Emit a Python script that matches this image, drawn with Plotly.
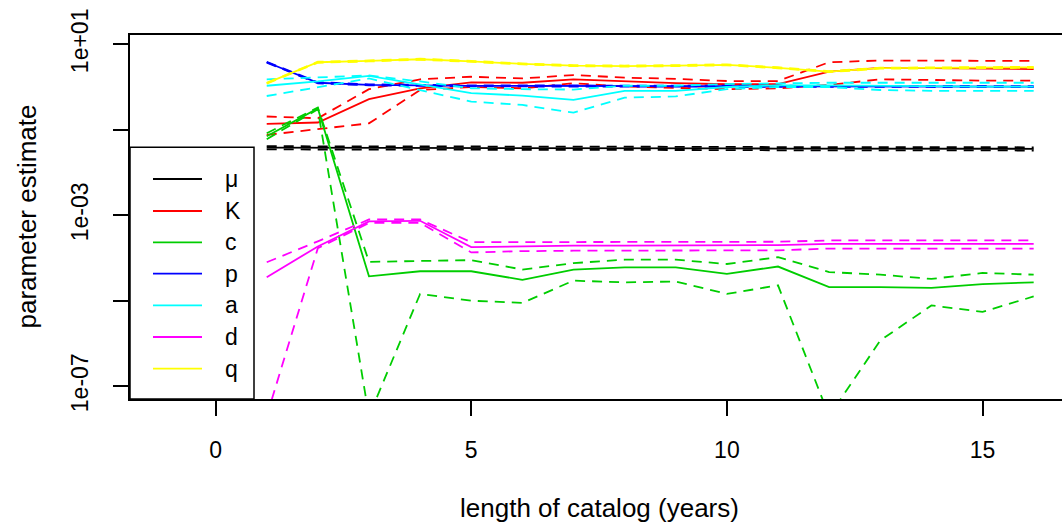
import plotly.graph_objects as go

# ---- data (log10 of parameter estimates) ----
years = [1, 2, 3, 4, 5, 6, 7, 8, 9, 10, 11, 12, 13, 14, 15, 16]

mu_est = [-1.42, -1.42, -1.425, -1.43, -1.43, -1.43, -1.43, -1.435, -1.435, -1.435, -1.44, -1.44, -1.44, -1.44, -1.445, -1.445]
mu_hi = [-1.385, -1.385, -1.39, -1.395, -1.395, -1.395, -1.395, -1.40, -1.40, -1.40, -1.405, -1.405, -1.405, -1.405, -1.41, -1.41]
mu_lo = [-1.46, -1.46, -1.465, -1.47, -1.47, -1.47, -1.47, -1.475, -1.475, -1.475, -1.48, -1.48, -1.48, -1.48, -1.485, -1.485]

K_est = [-0.86, -0.83, -0.285, -0.03, 0.11, 0.10, 0.18, 0.127, 0.089, 0.065, 0.07, 0.36, 0.45, 0.44, 0.43, 0.42]
K_hi = [-0.69, -0.73, -0.05, 0.18, 0.24, 0.20, 0.28, 0.22, 0.19, 0.14, 0.14, 0.58, 0.62, 0.62, 0.61, 0.61]
K_lo = [-1.12, -0.98, -0.85, -0.07, 0.0, -0.03, 0.09, 0.01, -0.02, -0.05, -0.03, 0.05, 0.18, 0.16, 0.15, 0.15]

c_est = [-1.15, -0.50, -4.43, -4.31, -4.31, -4.51, -4.27, -4.22, -4.22, -4.37, -4.20, -4.68, -4.68, -4.70, -4.61, -4.57]
c_hi = [-1.08, -0.48, -4.09, -4.07, -4.05, -4.27, -4.12, -4.04, -4.04, -4.14, -3.98, -4.33, -4.39, -4.49, -4.35, -4.39]
c_lo = [-1.22, -0.52, -7.7, -4.84, -5.0, -5.05, -4.53, -4.57, -4.55, -4.84, -4.64, -7.7, -5.93, -5.11, -5.26, -4.90]

p_est = [0.58, 0.10, 0.05, 0.03, 0.026, 0.025, 0.022, 0.02, 0.02, 0.02, 0.015, 0.012, 0.01, 0.01, 0.01, 0.01]
p_hi = [0.59, 0.112, 0.062, 0.042, 0.038, 0.037, 0.034, 0.032, 0.032, 0.032, 0.027, 0.024, 0.022, 0.022, 0.022, 0.022]
p_lo = [0.57, 0.088, 0.038, 0.018, 0.014, 0.013, 0.010, 0.008, 0.008, 0.008, 0.003, 0.0, -0.002, -0.002, -0.002, -0.002]

a_est = [0.03, 0.13, 0.26, 0.05, -0.145, -0.20, -0.30, -0.09, -0.09, 0.0, 0.04, 0.04, 0.03, 0.01, 0.01, 0.01]
a_hi = [0.18, 0.22, 0.27, 0.13, -0.03, -0.05, -0.06, 0.03, 0.03, 0.07, 0.09, 0.10, 0.10, 0.10, 0.10, 0.10]
a_lo = [-0.21, 0.0, 0.20, -0.07, -0.34, -0.42, -0.60, -0.25, -0.22, -0.05, 0.0, 0.0, -0.07, -0.09, -0.09, -0.09]

d_est = [-4.45, -3.73, -3.145, -3.13, -3.745, -3.72, -3.71, -3.71, -3.71, -3.705, -3.70, -3.67, -3.67, -3.67, -3.67, -3.67]
d_hi = [-4.10, -3.61, -3.10, -3.10, -3.63, -3.63, -3.63, -3.63, -3.63, -3.63, -3.62, -3.59, -3.59, -3.59, -3.59, -3.59]
d_lo = [-7.7, -3.77, -3.18, -3.18, -3.87, -3.84, -3.83, -3.83, -3.83, -3.83, -3.82, -3.78, -3.78, -3.78, -3.78, -3.78]

q_est = [0.09, 0.58, 0.61, 0.65, 0.60, 0.54, 0.50, 0.49, 0.50, 0.52, 0.45, 0.36, 0.44, 0.45, 0.46, 0.46]
q_hi = [0.10, 0.592, 0.622, 0.662, 0.612, 0.552, 0.512, 0.502, 0.512, 0.532, 0.462, 0.372, 0.452, 0.462, 0.472, 0.472]
q_lo = [0.08, 0.568, 0.598, 0.638, 0.588, 0.528, 0.488, 0.478, 0.488, 0.508, 0.438, 0.348, 0.428, 0.438, 0.448, 0.448]

param_names = ["μ", "K", "c", "p", "a", "d", "q"]
param_colors = ["#000000", "#FF0000", "#00CD00", "#0000FF", "#00FFFF", "#FF00FF", "#FFFF00"]
series = [
    (mu_est, mu_lo, mu_hi),
    (K_est, K_lo, K_hi),
    (c_est, c_lo, c_hi),
    (p_est, p_lo, p_hi),
    (a_est, a_lo, a_hi),
    (d_est, d_lo, d_hi),
    (q_est, q_lo, q_hi),
]

y_tick_vals = [1e1, 1e-1, 1e-3, 1e-5, 1e-7]
y_tick_text = ["1e+01", "", "1e-03", "", "1e-07"]
x_tick_vals = [0, 5, 10, 15]

FONT = "Liberation Sans, Arial, Helvetica, sans-serif"
W, H = 1062, 529
L, R, T, B = 130, 0, 35, 130
PW, PH = W - L - R, H - T - B
LW = 1.8

fig = go.Figure()
for name, col, (est, lo, hi) in zip(param_names, param_colors, series):
    fig.add_trace(go.Scatter(x=years, y=[10 ** v for v in est], mode="lines",
                             line=dict(color=col, width=LW), showlegend=False,
                             name=name, hoverinfo="skip"))
    for b in (lo, hi):
        fig.add_trace(go.Scatter(x=years, y=[10 ** v for v in b], mode="lines",
                                 line=dict(color=col, width=LW, dash="10px,7px"),
                                 showlegend=False, hoverinfo="skip"))

def px_x(p):
    return (p - L) / PW

def px_y(p):
    return (H - B - p) / PH

shapes = []
annotations = []
# legend box
shapes.append(dict(type="rect", xref="paper", yref="paper", x0=0, x1=px_x(254),
                   y0=0, y1=px_y(147.3), fillcolor="white",
                   line=dict(color="black", width=1.5), layer="above"))
legend_rows = [179, 211, 242.3, 273.7, 305.3, 337, 368.7]
for name, col, yy in zip(param_names, param_colors, legend_rows):
    shapes.append(dict(type="line", xref="paper", yref="paper", x0=px_x(153), x1=px_x(202),
                       y0=px_y(yy), y1=px_y(yy), line=dict(color=col, width=LW), layer="above"))
    annotations.append(dict(text=name, xref="paper", yref="paper", x=px_x(223), y=px_y(yy),
                            xanchor="left", yanchor="middle", showarrow=False,
                            font=dict(family=FONT, size=23, color="black")))

# axis titles
annotations.append(dict(text="length of catalog (years)", xref="paper", yref="paper",
                        x=px_x(599), y=0, yshift=-(508 - (H - B)), xanchor="center",
                        yanchor="middle", showarrow=False,
                        font=dict(family=FONT, size=26, color="black")))
annotations.append(dict(text="parameter estimate", xref="paper", yref="paper",
                        x=0, xshift=-(L - 26), y=px_y(216.5), xanchor="center",
                        yanchor="middle", textangle=-90, showarrow=False,
                        font=dict(family=FONT, size=26, color="black")))

fig.update_layout(
    width=W, height=H,
    margin=dict(l=L, r=R, t=T, b=B, pad=0),
    paper_bgcolor="white", plot_bgcolor="white",
    font=dict(family=FONT, color="black"),
    shapes=shapes, annotations=annotations,
    showlegend=False,
)
fig.update_xaxes(range=[-1.674, 16.554], tickvals=x_tick_vals, ticks="outside", ticklen=15,
                 tickwidth=1.5, tickcolor="black", showline=True, linecolor="black",
                 linewidth=1.5, mirror=True, showgrid=False, zeroline=False,
                 tickfont=dict(family=FONT, size=23, color="black"), ticklabelstandoff=15)
fig.update_yaxes(type="log", range=[-7.299, 1.217], tickvals=y_tick_vals, ticktext=y_tick_text,
                 ticks="outside", ticklen=15, tickwidth=1.5, tickcolor="black",
                 showline=True, linecolor="black", linewidth=1.5, mirror=False,
                 showgrid=False, zeroline=False, tickangle=-90,
                 tickfont=dict(family=FONT, size=23, color="black"), ticklabelstandoff=16)

fig.write_html("out.html", config={"displayModeBar": False},
               post_script="document.body.style.margin='0';document.body.style.padding='0';")
